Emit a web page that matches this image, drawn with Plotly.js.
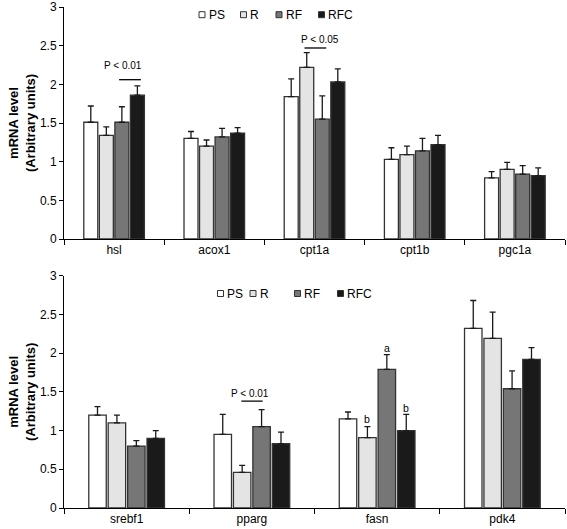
<!DOCTYPE html>
<html>
<head>
<meta charset="utf-8">
<script src="https://cdn.plot.ly/plotly-3.0.1.min.js"></script>
<style>
html,body{margin:0;padding:0;background:#fff;}
#chart{width:567px;height:529px;}
</style>
</head>
<body>
<div id="chart"></div>
<script>
// ---- data ----
const groups = ['PS', 'R', 'RF', 'RFC'];
const topGenes = ['hsl', 'acox1', 'cpt1a', 'cpt1b', 'pgc1a'];
const bottomGenes = ['srebf1', 'pparg', 'fasn', 'pdk4'];

const topPS = [1.51, 1.30, 1.84, 1.03, 0.79];
const topPSerr = [0.21, 0.09, 0.23, 0.15, 0.08];
const topR = [1.34, 1.20, 2.22, 1.09, 0.90];
const topRerr = [0.11, 0.08, 0.19, 0.11, 0.09];
const topRF = [1.51, 1.32, 1.55, 1.14, 0.84];
const topRFerr = [0.20, 0.11, 0.30, 0.16, 0.11];
const topRFC = [1.86, 1.37, 2.03, 1.22, 0.82];
const topRFCerr = [0.12, 0.07, 0.17, 0.12, 0.10];

const botPS = [1.20, 0.95, 1.15, 2.32];
const botPSerr = [0.11, 0.26, 0.09, 0.36];
const botR = [1.10, 0.46, 0.91, 2.19];
const botRerr = [0.10, 0.09, 0.14, 0.34];
const botRF = [0.80, 1.05, 1.79, 1.54];
const botRFerr = [0.07, 0.22, 0.19, 0.23];
const botRFC = [0.90, 0.83, 1.00, 1.92];
const botRFCerr = [0.10, 0.15, 0.21, 0.15];

// significance labels: [axis, category, text, y]
const pLabels = [
  ['top', 'hsl', 'P < 0.01', 2.25],
  ['top', 'cpt1a', 'P < 0.05', 2.58],
  ['bot', 'pparg', 'P < 0.01', 1.48]
];
const letterLabels = [
  ['fasn', 'R', 'b', 1.15],
  ['fasn', 'RF', 'a', 2.07],
  ['fasn', 'RFC', 'b', 1.29]
];

// ---- styles ----
const fills = ['#ffffff', '#e4e4e4', '#767676', '#1a1a1a'];
const edge = '#333333';
const FONT = '"Liberation Sans", Arial, Helvetica, sans-serif';

const W = 567, H = 529;
const M = {l: 64, r: 2, t: 7, b: 21};
const PW = W - M.l - M.r, PH = H - M.t - M.b;
const px2paperX = px => (px - M.l) / PW;
const px2paperY = py => (H - M.b - py) / PH;

const BARGAP = 0.38, GROUPGAP = 0.1;
const slot = (1 - BARGAP) / groups.length;
const barOffset = g => (groups.indexOf(g) - (groups.length - 1) / 2) * slot;

const topVals = [topPS, topR, topRF, topRFC];
const topErrs = [topPSerr, topRerr, topRFerr, topRFCerr];
const botVals = [botPS, botR, botRF, botRFC];
const botErrs = [botPSerr, botRerr, botRFerr, botRFCerr];

const traces = [];
groups.forEach((g, i) => {
  traces.push({
    type: 'bar', name: g, x: topGenes, y: topVals[i],
    xaxis: 'x', yaxis: 'y', showlegend: false,
    marker: {color: fills[i], line: {color: edge, width: 1.3}},
    error_y: {type: 'data', symmetric: false, array: topErrs[i],
              arrayminus: topErrs[i].map(() => 0),
              color: '#1a1a1a', thickness: 1.3, width: 3}
  });
});
groups.forEach((g, i) => {
  traces.push({
    type: 'bar', name: g, x: bottomGenes, y: botVals[i],
    xaxis: 'x2', yaxis: 'y2', showlegend: false,
    marker: {color: fills[i], line: {color: edge, width: 1.3}},
    error_y: {type: 'data', symmetric: false, array: botErrs[i],
              arrayminus: botErrs[i].map(() => 0),
              color: '#1a1a1a', thickness: 1.3, width: 3}
  });
});

const yTitle = {text: 'mRNA level<br>(Arbitrary units)', font: {size: 13, weight: 700, color: '#000'}, standoff: 1};
const baseX = {
  type: 'category', showline: true, linecolor: '#000', linewidth: 1,
  ticks: 'outside', tickson: 'boundaries', ticklen: 5, tickcolor: '#000',
  showgrid: false, zeroline: false, fixedrange: true,
  tickfont: {size: 12, color: '#000'}
};
const baseY = {
  range: [0, 3], tick0: 0, dtick: 0.5, showline: true, linecolor: '#000', linewidth: 1,
  ticks: 'outside', ticklen: 4, tickcolor: '#000', showgrid: false, zeroline: false,
  ticklabeloverflow: 'allow',
  fixedrange: true, tickfont: {size: 12, color: '#000'}, title: yTitle
};

const shapes = [];
const annotations = [];

// significance lines + text
const lineSpan = {hsl: [0.05, 0.267, 2.06], cpt1a: [-0.10, 0.117, 2.47], pparg: [-0.084, 0.086, 1.38]};
const textShift = {hsl: 0.09, cpt1a: 0.05, pparg: -0.012};
pLabels.forEach(([ax, cat, txt, y]) => {
  const cats = ax === 'top' ? topGenes : bottomGenes;
  const xi = cats.indexOf(cat);
  const xr = ax === 'top' ? 'x' : 'x2', yr = ax === 'top' ? 'y' : 'y2';
  const s = lineSpan[cat];
  shapes.push({type: 'line', xref: xr, yref: yr, x0: xi + s[0], x1: xi + s[1], y0: s[2], y1: s[2],
               line: {color: '#000', width: 1.3}});
  annotations.push({xref: xr, yref: yr, x: xi + textShift[cat], y: y, text: txt, showarrow: false,
                    xanchor: 'center', yanchor: 'middle', font: {size: 10, color: '#000'}});
});
letterLabels.forEach(([cat, g, txt, y]) => {
  const xi = bottomGenes.indexOf(cat);
  annotations.push({xref: 'x2', yref: 'y2', x: xi + barOffset(g), y: y, text: txt, showarrow: false,
                    xanchor: 'center', yanchor: 'middle', font: {size: 10.5, color: '#000'}});
});

// manual legends (small squares + labels)
const legendTop = {y: 14.7, xs: [202, 243.5, 279, 321.5]};
const legendBot = {y: 293.5, xs: [220.5, 253, 297.5, 340.5]};
[legendTop, legendBot].forEach(L => {
  groups.forEach((g, i) => {
    const cx = L.xs[i], cy = L.y, h = 3;
    shapes.push({type: 'rect', xref: 'paper', yref: 'paper',
                 x0: px2paperX(cx - h), x1: px2paperX(cx + h),
                 y0: px2paperY(cy + h), y1: px2paperY(cy - h),
                 fillcolor: fills[i], line: {color: edge, width: 1}});
    annotations.push({xref: 'paper', yref: 'paper', x: px2paperX(cx + h + 1.5), y: px2paperY(cy),
                      text: g, showarrow: false, xanchor: 'left', yanchor: 'middle',
                      font: {size: 12, color: '#000'}});
  });
});

const topDomainBottom = px2paperY(239);
const botDomainTop = px2paperY(275.7);

const layout = {
  width: W, height: H, margin: M,
  paper_bgcolor: '#fff', plot_bgcolor: '#fff',
  font: {family: FONT, size: 12, color: '#000'},
  showlegend: false,
  barmode: 'group', bargap: BARGAP, bargroupgap: GROUPGAP,
  xaxis: Object.assign({}, baseX, {domain: [0, 1], anchor: 'y', range: [-0.5, topGenes.length - 0.5]}),
  yaxis: Object.assign({}, baseY, {domain: [topDomainBottom, 1], anchor: 'x'}),
  xaxis2: Object.assign({}, baseX, {domain: [0, 1], anchor: 'y2', range: [-0.5, bottomGenes.length - 0.5]}),
  yaxis2: Object.assign({}, baseY, {domain: [0, botDomainTop], anchor: 'x2'}),
  shapes: shapes,
  annotations: annotations
};

Plotly.newPlot('chart', traces, layout, {displayModeBar: false, staticPlot: true});
</script>
</body>
</html>
